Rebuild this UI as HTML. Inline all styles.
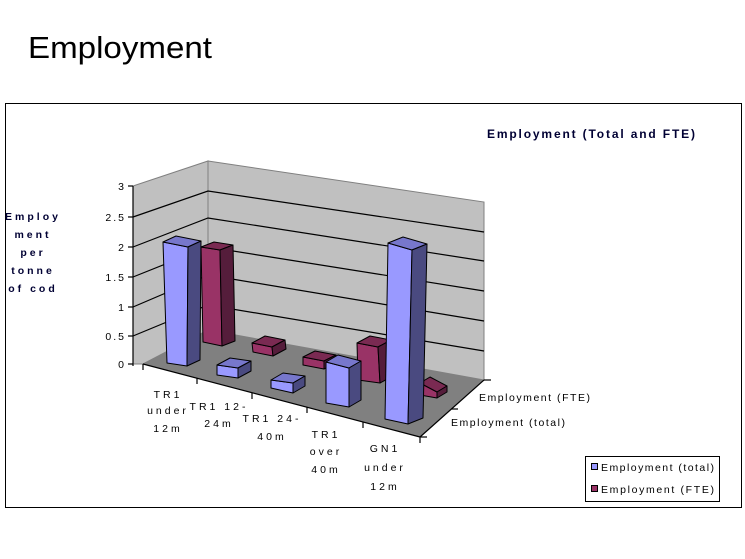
<!DOCTYPE html>
<html><head><meta charset="utf-8"><style>
html,body{margin:0;padding:0;background:#fff;}
svg{display:block;}
text{font-family:"Liberation Sans",sans-serif;}
</style></head><body>
<svg width="745" height="559" viewBox="0 0 745 559" xmlns="http://www.w3.org/2000/svg">
<text x="28" y="58" font-size="31" fill="#000" textLength="184" lengthAdjust="spacingAndGlyphs">Employment</text>
<rect x="5.5" y="103.5" width="736" height="404" fill="#fff" stroke="#000" stroke-width="1"/>
<text x="487" y="138" font-size="12" font-weight="bold" fill="#000033" textLength="210" lengthAdjust="spacing" letter-spacing="2">Employment (Total and FTE)</text>
<g font-size="10.5" font-weight="bold" fill="#000033" text-anchor="middle" letter-spacing="3">
<text x="33" y="220">Employ</text>
<text x="33" y="238">ment</text>
<text x="33" y="256">per</text>
<text x="33" y="274">tonne</text>
<text x="33" y="292">of cod</text>
</g>
<polygon points="133,186 208,161 208,330 143,364 133,364" fill="#c0c0c0" stroke="#808080" stroke-width="1"/>
<polygon points="208,161 484,202 484,380 208,330" fill="#c0c0c0" stroke="#808080" stroke-width="1"/>
<polygon points="143,364 208,330 484,380 420,437" fill="#808080"/>
<g stroke="#000" stroke-width="1.2" fill="none">
<polyline points="133,217 208,191 484,232"/>
<polyline points="133,247 208,218 484,261"/>
<polyline points="133,277 208,247 484,291"/>
<polyline points="133,307 208,275 484,321"/>
<polyline points="133,336 208,305 484,351"/>
<line x1="133" y1="186" x2="133" y2="366"/>
<line x1="143" y1="364" x2="420" y2="437"/>
<line x1="420" y1="437" x2="484" y2="380"/>
<line x1="128" y1="186" x2="133" y2="186"/>
<line x1="128" y1="217" x2="133" y2="217"/>
<line x1="128" y1="247" x2="133" y2="247"/>
<line x1="128" y1="277" x2="133" y2="277"/>
<line x1="128" y1="307" x2="133" y2="307"/>
<line x1="128" y1="336" x2="133" y2="336"/>
<line x1="128" y1="364" x2="133" y2="364"/>
<line x1="143" y1="364" x2="143" y2="370"/>
<line x1="197" y1="378" x2="197" y2="384"/>
<line x1="252" y1="393" x2="252" y2="399"/>
<line x1="307" y1="407" x2="307" y2="413"/>
<line x1="363" y1="422" x2="363" y2="428"/>
<line x1="420" y1="437" x2="420" y2="443"/>
<line x1="420" y1="437" x2="427" y2="437"/>
<line x1="451" y1="409" x2="458" y2="409"/>
<line x1="484" y1="380" x2="491" y2="380"/>
</g>
<g font-size="10.5" fill="#000" text-anchor="end" letter-spacing="2">
<text x="126" y="190">3</text><text x="126" y="221">2.5</text><text x="126" y="251">2</text>
<text x="126" y="281">1.5</text><text x="126" y="311">1</text><text x="126" y="340">0.5</text><text x="126" y="368">0</text>
</g>
<g font-size="10.5" fill="#000" text-anchor="middle" letter-spacing="3">
<text x="168" y="398">TR1</text><text x="168" y="414">under</text><text x="168" y="432">12m</text>
<text x="219" y="410">TR1 12-</text><text x="219" y="427">24m</text>
<text x="272" y="422">TR1 24-</text><text x="272" y="440">40m</text>
<text x="326" y="438">TR1</text><text x="326" y="455">over</text><text x="326" y="473">40m</text>
<text x="385" y="452">GN1</text><text x="385" y="471">under</text><text x="385" y="490">12m</text>
</g>
<text x="479" y="401" font-size="10.5" textLength="114" lengthAdjust="spacing" letter-spacing="3">Employment (FTE)</text>
<text x="451" y="426" font-size="10.5" textLength="117" lengthAdjust="spacing" letter-spacing="3">Employment (total)</text>
<g stroke="#000" stroke-width="1" stroke-linejoin="round">
<g>
<polygon points="201,247 220,250 222,346 203,342" fill="#993366"/>
<polygon points="201,247 220,250 233,245 214,242" fill="#7a2a52"/>
<polygon points="220,250 233,245 235,341 222,346" fill="#551d3b"/>
<polygon points="252,343 272,347 273,356 253,352" fill="#993366"/>
<polygon points="252,343 272,347 285,340 265,336" fill="#7a2a52"/>
<polygon points="272,347 285,340 286,349 273,356" fill="#551d3b"/>
<polygon points="303,357 324,361 324,369 303,365" fill="#993366"/>
<polygon points="303,357 324,361 336,355 315,351" fill="#7a2a52"/>
<polygon points="324,361 336,355 336,363 324,369" fill="#551d3b"/>
<polygon points="357,343 378,347 380,383 358,380" fill="#993366"/>
<polygon points="357,343 378,347 391,340 370,336" fill="#7a2a52"/>
<polygon points="378,347 391,340 393,376 380,383" fill="#551d3b"/>
<polygon points="420,383 437,392 437,398 420,395" fill="#993366"/>
<polygon points="420,383 437,392 447,386 430,377" fill="#7a2a52"/>
<polygon points="437,392 447,386 447,392 437,398" fill="#551d3b"/>
</g>
<g>
<polygon points="163,242 188,247 187,366 167,363" fill="#9999ff"/>
<polygon points="163,242 188,247 201,241 176,236" fill="#7777cc"/>
<polygon points="188,247 201,241 200,360 187,366" fill="#4a4a80"/>
<polygon points="217,365 238,368 238,378 217,375" fill="#9999ff"/>
<polygon points="217,365 238,368 251,361 230,358" fill="#7777cc"/>
<polygon points="238,368 251,361 251,371 238,378" fill="#4a4a80"/>
<polygon points="271,380 293,383 293,393 271,388" fill="#9999ff"/>
<polygon points="271,380 293,383 305,376 283,373" fill="#7777cc"/>
<polygon points="293,383 305,376 305,386 293,393" fill="#4a4a80"/>
<polygon points="326,362 349,368 349,407 326,403" fill="#9999ff"/>
<polygon points="326,362 349,368 361,361 338,355" fill="#7777cc"/>
<polygon points="349,368 361,361 361,400 349,407" fill="#4a4a80"/>
<polygon points="388,243 412,250 408,424 385,419" fill="#9999ff"/>
<polygon points="388,243 412,250 427,244 403,237" fill="#7777cc"/>
<polygon points="412,250 427,244 423,418 408,424" fill="#4a4a80"/>
</g>
</g>
<rect x="585.5" y="456.5" width="134" height="45" fill="#fff" stroke="#000"/>
<rect x="591.5" y="463.5" width="6" height="6" fill="#9999ff" stroke="#000"/>
<rect x="591.5" y="485.5" width="6" height="6" fill="#993366" stroke="#000"/>
<text x="601" y="471" font-size="10.5" textLength="116" lengthAdjust="spacing" letter-spacing="3">Employment (total)</text>
<text x="601" y="493" font-size="10.5" textLength="116" lengthAdjust="spacing" letter-spacing="3">Employment (FTE)</text>
</svg>
</body></html>
